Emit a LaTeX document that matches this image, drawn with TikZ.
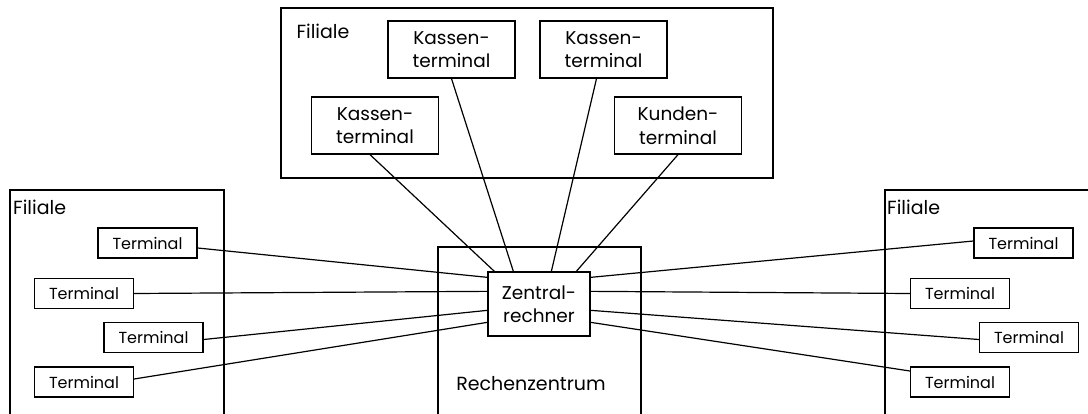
\documentclass[tikz,border=0pt]{standalone}
\usepackage{fontspec}
\setmainfont{Poppins}
\usetikzlibrary{calc}
\begin{document}
\begin{tikzpicture}[x=1pt,y=-1pt,
  box/.style={draw,line width=1.3pt,inner sep=0pt,align=center,font=\fontsize{18.5}{23.5}\selectfont},
  term/.style={box,minimum width=99pt,minimum height=30pt,font=\fontsize{16}{20}\selectfont},
  kasse/.style={box,minimum width=127pt,minimum height=57pt},
  wire/.style={line width=1.2pt},
  frame/.style={line width=1.3pt},
  lbl/.style={inner sep=0pt,font=\fontsize{19}{22}\selectfont}]
\useasboundingbox (0,0) rectangle (1088,414);
% site frames
\draw[frame] (281,8) rectangle (773,178);
\draw[frame] (10,414) -- (10,190) -- (224,190) -- (224,414);
\draw[frame] (885,414) -- (885,190) -- (1088,190);
\draw[frame] (438,414) -- (438,247) -- (641,247) -- (641,414);
\node[lbl] (f1) at (323,31) {Filiale};
\node[lbl,anchor=west] (f2) at (13,207) {Filiale};
\node[lbl,anchor=west] (f3) at (887,207) {Filiale};
\node[lbl] (rz) at (531,384) {Rechenzentrum};
% central computer
\node[box,minimum width=102pt,minimum height=64pt] (z) at (539,304) {Zentral-\\rechner};
% terminals of the upper branch
\node[kasse] (k1) at (451.5,49.5) {Kassen-\\terminal};
\node[kasse] (k2) at (603.5,49.5) {Kassen-\\terminal};
\node[kasse] (k3) at (375,125.5) {Kassen-\\terminal};
\node[kasse] (k4) at (678,125.5) {Kunden-\\terminal};
% terminals of the left branch
\node[term] (l1) at (147.5,243) {Terminal};
\node[term] (l2) at (84,293.5) {Terminal};
\node[term] (l3) at (153.5,337.5) {Terminal};
\node[term] (l4) at (84,382) {Terminal};
% terminals of the right branch
\node[term] (r1) at (1023.5,243) {Terminal};
\node[term] (r2) at (960,293.5) {Terminal};
\node[term] (r3) at (1029,337.5) {Terminal};
\node[term] (r4) at (960,382) {Terminal};
% attachment points on the central computer
\coordinate (zt1) at ($(z.north west)+(7,0)$);
\coordinate (zt2) at ($(z.north west)+(26,0)$);
\coordinate (zt3) at ($(z.north west)+(64,0)$);
\coordinate (zt4) at ($(z.north west)+(89,0)$);
\coordinate (zl1) at ($(z.north west)+(0,6)$);
\coordinate (zl2) at ($(z.north west)+(0,20)$);
\coordinate (zl3) at ($(z.north west)+(0,39)$);
\coordinate (zl4) at ($(z.north west)+(0,51)$);
\coordinate (zr1) at ($(z.north east)+(0,6)$);
\coordinate (zr2) at ($(z.north east)+(0,20)$);
\coordinate (zr3) at ($(z.north east)+(0,39)$);
\coordinate (zr4) at ($(z.north east)+(0,51)$);
% connections
\draw[wire] ([xshift=-5]k3.south) -- (zt1);
\draw[wire] (k1.south) -- (zt2);
\draw[wire] ([xshift=-7]k2.south) -- (zt3);
\draw[wire] (k4.south) -- (zt4);
\draw[wire] ([yshift=-5]l1.east) -- (zl1);
\draw[wire] (l2.east) -- (zl2);
\draw[wire] ([yshift=-2]l3.east) -- (zl3);
\draw[wire] ([yshift=3]l4.east) -- (zl4);
\draw[wire] ([yshift=2]r1.west) -- (zr1);
\draw[wire] (r2.west) -- (zr2);
\draw[wire] ([yshift=-2]r3.west) -- (zr3);
\draw[wire] ([yshift=11]r4.west) -- (zr4);
\end{tikzpicture}
\end{document}
